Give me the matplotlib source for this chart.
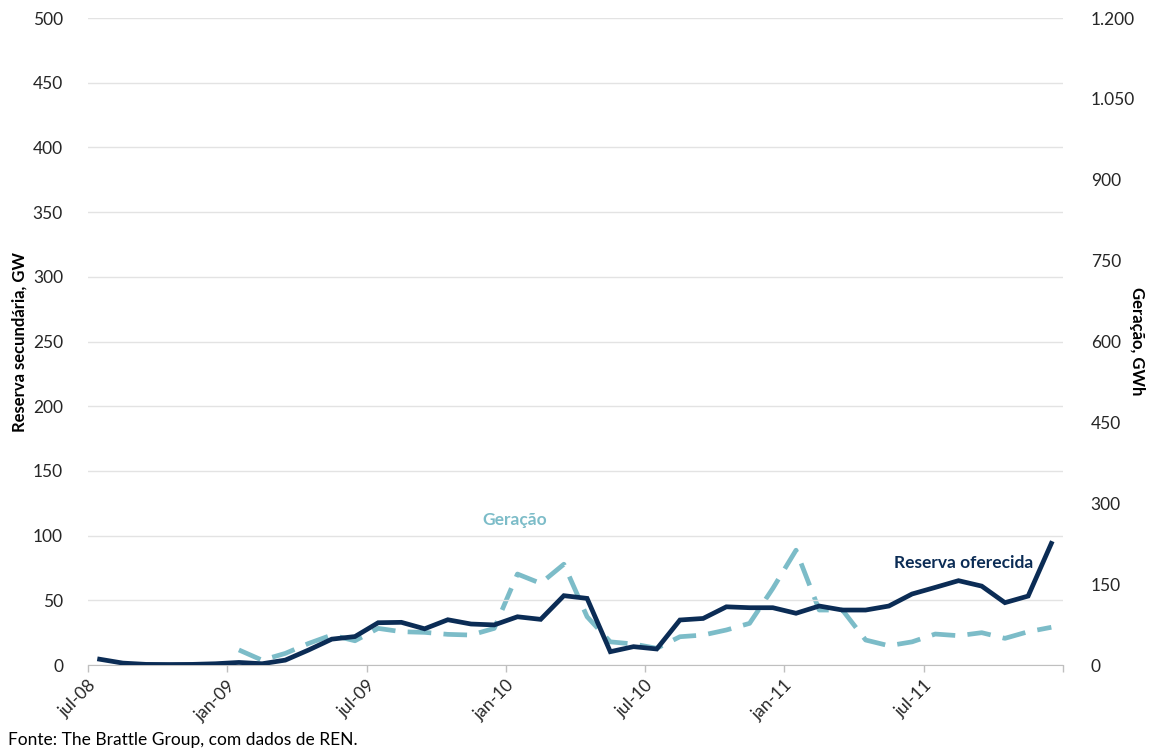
import matplotlib
matplotlib.use("Agg")
import matplotlib.pyplot as plt
from matplotlib.ticker import FixedLocator, FuncFormatter

plt.rcParams['font.family'] = ['Lato', 'DejaVu Sans']

# Monthly series, jul-08 .. dec-11
months = ["jul-08", "ago-08", "set-08", "out-08", "nov-08", "dez-08",
          "jan-09", "fev-09", "mar-09", "abr-09", "mai-09", "jun-09",
          "jul-09", "ago-09", "set-09", "out-09", "nov-09", "dez-09",
          "jan-10", "fev-10", "mar-10", "abr-10", "mai-10", "jun-10",
          "jul-10", "ago-10", "set-10", "out-10", "nov-10", "dez-10",
          "jan-11", "fev-11", "mar-11", "abr-11", "mai-11", "jun-11",
          "jul-11", "ago-11", "set-11", "out-11", "nov-11", "dez-11"]

# Reserva oferecida (GW, left axis)
reserva = [4.5, 1.5, 0.5, 0.4, 0.5, 1.0,
           2.0, 1.0, 3.8, 11.6, 20.0, 22.0,
           32.7, 33.0, 28.0, 35.0, 31.7, 31.0,
           37.3, 35.3, 53.6, 51.5, 10.3, 14.2,
           12.4, 34.8, 36.0, 45.0, 44.3, 44.3,
           40.0, 45.6, 42.5, 42.5, 45.6, 54.9,
           60.0, 65.2, 61.0, 48.2, 53.3, 94.0]

# Geração (GWh, right axis), starts jan-09
geracao = [None, None, None, None, None, None,
           28.0, 9.0, 21.6, 40.0, 55.6, 45.0,
           68.0, 61.8, 60.6, 56.9, 55.6, 68.0,
           168.8, 151.5, 187.0, 89.6, 43.0, 39.0,
           31.0, 52.5, 55.6, 65.0, 77.3, 142.0,
           213.0, 102.0, 102.0, 46.4, 35.8, 43.0,
           57.5, 54.4, 60.0, 49.5, 61.8, 70.0]

left_ticks = list(range(0, 501, 50))
right_ticks = list(range(0, 1201, 150))

NAVY = "#0b2c55"
TEAL = "#7cbcc8"
GRID = "#e3e3e3"
TEXT = "#262626"

fig = plt.figure(figsize=(11.52, 7.54), dpi=100)
ax = fig.add_axes([0.0764, 0.118, 0.8463, 0.858])
ax2 = ax.twinx()

x = list(range(len(months)))
gx = [i for i, v in zip(x, geracao) if v is not None]
gv = [v for v in geracao if v is not None]

ax.plot(x, reserva, color=NAVY, lw=3.4, solid_joinstyle="miter", zorder=3)
ax2.plot(gx, gv, color=TEAL, lw=3.4, dashes=(5, 2.6), zorder=2)
ax.set_zorder(ax2.get_zorder() + 1)
ax.patch.set_visible(False)

ax.set_xlim(-0.5, len(months) - 0.5)
ax.set_ylim(0, 500)
ax2.set_ylim(0, 1200)

# left axis + gridlines
ax.yaxis.set_major_locator(FixedLocator(left_ticks))
ax.grid(axis="y", color=GRID, lw=1)
ax.tick_params(axis="y", length=0, pad=18, labelsize=12.5, labelcolor=TEXT)

# right axis with dot thousands separator
ax2.yaxis.set_major_locator(FixedLocator(right_ticks))
ax2.yaxis.set_major_formatter(FuncFormatter(lambda v, p: f"{int(v):,}".replace(",", ".")))
ax2.tick_params(axis="y", length=0, pad=20, labelsize=12.5, labelcolor=TEXT)

# category axis, labels every six months
edges = [-0.5 + 6 * k for k in range(8)]
ax.set_xticks(edges)
ax.set_xticklabels([months[6 * k] for k in range(7)] + [""])
ax.tick_params(axis="x", length=5, color="#bfbfbf", width=1, labelsize=12.5,
               labelcolor=TEXT, pad=4)
for lbl in ax.get_xticklabels():
    lbl.set_rotation(45)
    lbl.set_ha("right")
    lbl.set_va("top")
    lbl.set_rotation_mode("anchor")

for a in (ax, ax2):
    for s in ("top", "left", "right"):
        a.spines[s].set_visible(False)
    a.spines["bottom"].set_color("#bfbfbf")
ax2.spines["bottom"].set_visible(False)

ax.set_ylabel("Reserva secundária, GW", fontsize=12, fontweight="bold",
              color="black")
ax2.set_ylabel("Geração, GWh", fontsize=12, fontweight="bold", color="black",
               rotation=-90, va="center")
ax.yaxis.set_label_coords(-0.062, 0.5)
ax2.yaxis.set_label_coords(1.0755, 0.5)

ax.text(17.9, 112, "Geração", color=TEAL, fontsize=12.5, fontweight="bold",
        ha="center", va="center")
ax.text(37.2, 79, "Reserva oferecida", color=NAVY, fontsize=12.5,
        fontweight="bold", ha="center", va="center")

fig.text(0.007, 0.018, "Fonte: The Brattle Group, com dados de REN.",
         fontsize=12.5, color="black", ha="left", va="center")

fig.savefig("out.png", dpi=100)
